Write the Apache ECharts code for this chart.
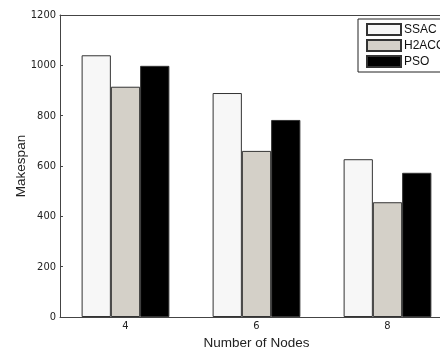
<!DOCTYPE html>
<html><head><meta charset="utf-8">
<script src="https://cdn.jsdelivr.net/npm/echarts@6/dist/echarts.min.js"></script>
<style>html,body{margin:0;padding:0;background:#fff}#c{width:440px;height:348px}</style>
</head><body><div id="c"></div>
<script>
const categories = ['4', '6', '8'];
const seriesNames = ['SSAC', 'H2ACO', 'PSO'];
const ssac = [1040, 890, 627];
const h2aco = [915, 660, 456];
const pso = [998, 783, 573];
const yTicks = [0, 200, 400, 600, 800, 1000, 1200];

const font = 'Liberation Sans, Arial, sans-serif';
const narrow = '"Liberation Sans Narrow", "Arial Narrow", "DejaVu Sans Condensed", sans-serif';
const axisColor = '#444';
const chart = echarts.init(document.getElementById('c'), null, {renderer: 'canvas'});
const fills = ['#f7f7f7', '#d4d0c8', '#000000'];
const data = [ssac, h2aco, pso];
chart.setOption({
  animation: false,
  backgroundColor: '#fff',
  textStyle: {fontFamily: font},
  grid: {left: 60, top: 15, width: 393, height: 302, containLabel: false, outerBoundsMode: 'none'},
  legend: {
    orient: 'vertical', left: 358, top: 19,
    data: seriesNames,
    itemWidth: 34, itemHeight: 11, itemGap: 3,
    padding: [4, 30, 4, 8],
    backgroundColor: '#fff', borderColor: '#222', borderWidth: 1,
    textStyle: {color: '#111', fontSize: 12, fontFamily: font, padding: [0, 0, 0, -2]},
    icon: 'rect'
  },
  xAxis: [{
    type: 'category', data: categories, position: 'bottom',
    name: 'Number of Nodes', nameLocation: 'middle', nameGap: 19, nameMoveOverlap: false,
    nameTextStyle: {color: '#222', fontSize: 13.5, fontFamily: font},
    axisLine: {lineStyle: {color: axisColor, width: 1}},
    axisTick: {inside: true, alignWithLabel: true, length: 3, lineStyle: {color: axisColor}},
    axisLabel: {color: '#222', fontSize: 11, margin: 4, fontFamily: narrow},
    splitLine: {show: false}
  }, {
    type: 'category', data: categories, position: 'top',
    axisLine: {lineStyle: {color: axisColor, width: 1}},
    axisTick: {inside: true, alignWithLabel: true, length: 3, lineStyle: {color: axisColor}},
    axisLabel: {show: false}
  }],
  yAxis: {
    type: 'value', min: 0, max: 1200, interval: 200,
    name: 'Makespan', nameLocation: 'middle', nameGap: 32, nameMoveOverlap: false,
    nameTextStyle: {color: '#222', fontSize: 13.5, fontFamily: font},
    axisLine: {show: true, lineStyle: {color: axisColor, width: 1}},
    axisTick: {show: true, inside: true, length: 3, lineStyle: {color: axisColor}},
    axisLabel: {color: '#222', fontSize: 11, margin: 4, fontFamily: narrow,
      formatter: v => yTicks.includes(v) ? String(v) : ''},
    splitLine: {show: false}
  },
  series: seriesNames.map((n, i) => ({
    name: n, type: 'bar', data: data[i],
    barGap: '0%', barCategoryGap: '33%',
    itemStyle: {color: fills[i], borderColor: '#333', borderWidth: 1}
  }))
});
</script></body></html>
